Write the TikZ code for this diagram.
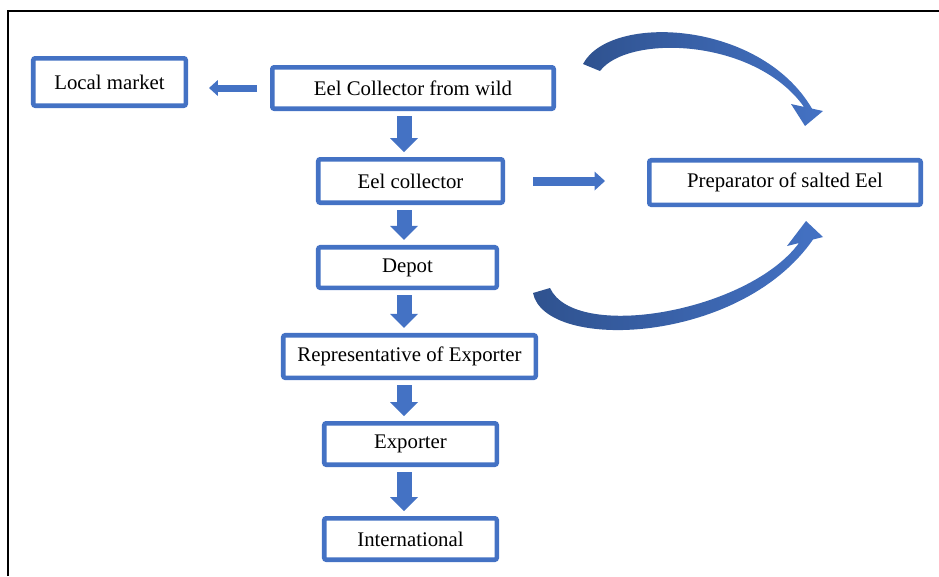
\documentclass[tikz,border=0pt]{standalone}
\usepackage{fontspec}
\setmainfont{Liberation Serif}
\usetikzlibrary{arrows.meta}
\definecolor{boxblue}{HTML}{4472C4}
\definecolor{darkblue}{HTML}{2F528F}

\begin{document}
\begin{tikzpicture}[x=0.75pt, y=-0.75pt, every node/.style={font=\fontsize{15.6}{18}\selectfont}, stage/.style={draw=boxblue, line width=3.4pt, rounded corners=1.5pt, inner sep=0pt, fill=white}, downarrow/.style={draw=boxblue, line width=11.25pt, shorten <=3.75pt, shorten >=3.75pt, -{Triangle[width=21pt, length=10.5pt, line width=0pt]}}, sidearrow/.style={draw=boxblue, -{Triangle[width=#1, length=0.55*#1, line width=0pt]}}]
	\useasboundingbox (0,0) rectangle (939,576);
	\draw[line width=1.9pt] (8,576) -- (8,11) -- (939,11);
	% stages of the chain
	\node[stage, minimum width=114.4pt, minimum height=35.6pt] (loc) at (109.5,82) {Local market};
	\node[stage, minimum width=211.1pt, minimum height=31.1pt] (wild) at (413,88) {Eel Collector from wild};
	\node[stage, minimum width=138.4pt, minimum height=32.6pt] (coll) at (410.5,181) {Eel collector};
	\node[stage, minimum width=133.9pt, minimum height=30.4pt] (depot) at (407.5,267.5) {Depot};
	\node[stage, minimum width=189.4pt, minimum height=31.9pt] (rep) at (409.5,356.5) {Representative of Exporter};
	\node[stage, minimum width=129.4pt, minimum height=31.1pt] (exp) at (410.5,444) {Exporter};
	\node[stage, minimum width=129.4pt, minimum height=31.1pt] (intl) at (410.5,539) {International};
	\node[stage, minimum width=203.6pt, minimum height=33.4pt] (prep) at (785,182.5) {Preparator of salted Eel};
	\coordinate (col) at (404,0);
	\draw[downarrow] (wild.south -| col) -- (coll.north -| col);
	\draw[downarrow] (coll.south -| col) -- (depot.north -| col);
	\draw[downarrow] (depot.south -| col) -- (rep.north -| col);
	\draw[downarrow] (rep.south -| col) -- (exp.north -| col);
	\draw[downarrow] (exp.south -| col) -- (intl.north -| col);
	\draw[sidearrow=12pt, line width=5.25pt, shorten <=9.75pt, shorten >=15.75pt] (wild.west) -- (wild.west -| loc.east);
	\draw[sidearrow=14.25pt, line width=6.75pt, shorten <=21pt, shorten >=31.5pt] (coll.east) -- (coll.east -| prep.west);
	% curved arrows to the preparator
	\shade[left color=darkblue, right color=boxblue] (583,64) .. controls (610,13) and (760,20) .. (812,108.6) -- (823,111) -- (805,126) -- (791,104) -- (804,106.9) .. controls (755,38) and (628,34) .. (600,71) -- cycle;
	\shade[left color=darkblue, right color=boxblue] (533,293) .. controls (545,352) and (740,345) .. (813,239.5) -- (823,237) -- (806,221) -- (787,246) -- (799,243) .. controls (748,312) and (575,342) .. (550,288) -- cycle;
\end{tikzpicture}
\end{document}
